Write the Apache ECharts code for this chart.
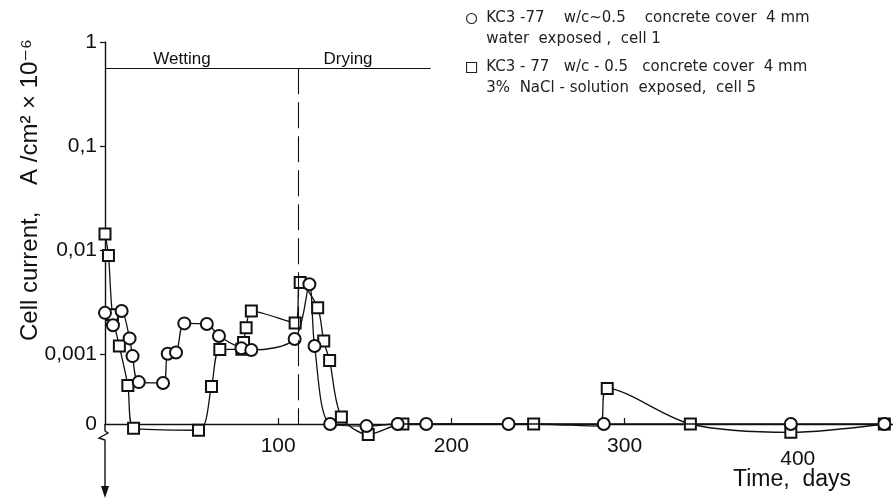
<!DOCTYPE html>
<html>
<head>
<meta charset="utf-8">
<script src="https://cdn.jsdelivr.net/npm/echarts@6/dist/echarts.min.js"></script>
<style>html,body{margin:0;padding:0;background:#fff}#c{width:893px;height:501px}</style>
</head>
<body>
<div id="c"></div>
<script>
// ---- data (cell current in A/cm^2 x 10^-6, time in days) ----
const daysWater = [0, 4.6, 9.6, 14.2, 15.9, 19.5, 33.5, 36.2, 41, 45.8, 58.8, 65.8, 78.8, 84.5, 109.5, 118, 121, 130, 151, 169, 185.5, 233, 288, 396, 450];
const currentWater = [0.0025, 0.0019, 0.0026, 0.00142, 0.00096, 0.00054, 0.00053, 0.00101, 0.00104, 0.00198, 0.00195, 0.0015, 0.00114, 0.0011, 0.0014, 0.0047, 0.0012, 0, -0.00002, 0, 0, 0, 0, 0, 0];
const daysNaCl = [0, 2, 4.3, 8.3, 13.2, 16.5, 54, 61.5, 66.3, 79, 80, 81.5, 84.5, 109.8, 112.7, 122.8, 126.3, 129.7, 136.5, 152, 172, 247.5, 285, 290, 338, 396, 450];
const currentNaCl = [0.0143, 0.0089, 0.0024, 0.0012, 0.0005, -0.00004, -0.00006, 0.00049, 0.00111, 0.00112, 0.0013, 0.0018, 0.0026, 0.002, 0.0049, 0.0028, 0.00134, 0.00087, 0.00025, -0.0001, 0, 0, -0.00002, 0.00047, 0, -0.00008, 0];
// curve vertex without a measurement symbol (where the drawn curve passes the circle at day 288)
const unmarkedNaCl = [285];
const yTickValues = [1, 0.1, 0.01, 0.001, 0];
const yTickLabels = ['1', '0,1', '0,01', '0,001', '0'];
const xTickValues = [100, 200, 300, 400];
const seriesNames = [
  'KC3 -77    w/c~0.5    concrete cover  4 mm\nwater  exposed ,  cell 1',
  'KC3 - 77   w/c - 0.5   concrete cover  4 mm\n3%  NaCl - solution  exposed,  cell 5'
];
const phaseSwitchDay = 111.6;
const phaseLineEndDay = 188;
const phaseLineLevel = 0.56;

// broken axis: decades on log scale, zero drawn 0.67 decade below 0.001
const ZERO_DECADE = -3.67;
const NEG_SCALE = 1000;
function toPos(v) { return v > 0 ? Math.log10(v) - ZERO_DECADE : v * NEG_SCALE; }

const FONT = '"Liberation Sans", "DejaVu Sans", sans-serif';
const LFONT = '"DejaVu Sans", sans-serif';
const chart = echarts.init(document.getElementById('c'), null, {renderer: 'canvas'});
const yPosTicks = yTickValues.map(toPos);

chart.setOption({
  animation: false,
  backgroundColor: '#fff',
  grid: {left: 105, right: 0, top: 42, bottom: 77, containLabel: false, outerBoundsMode: 'none'},
  legend: {
    orient: 'vertical', left: 461, top: -18, itemGap: -14,
    itemWidth: 10, itemHeight: 10,
    itemStyle: {color: '#fff', borderColor: '#222', borderWidth: 1.1},
    formatter: name => ' \n ' + name.replace('\n', '\n '),
    textStyle: {fontFamily: LFONT, fontSize: 15, color: '#222', lineHeight: 21},
    data: [{name: seriesNames[0], icon: 'circle'}, {name: seriesNames[1], icon: 'rect'}]
  },
  xAxis: {
    type: 'value', min: 0, max: 455,
    axisLine: {lineStyle: {color: '#111', width: 1.4}},
    axisTick: {customValues: [100, 200, 300], inside: true, length: 6, lineStyle: {color: '#111', width: 1.2}},
    axisLabel: {customValues: xTickValues, margin: 12, fontFamily: FONT, fontSize: 21, color: '#111',
      formatter: v => v === 400 ? '{low|' + v + '}' : String(v),
      rich: {low: {fontFamily: FONT, fontSize: 21, color: '#111', padding: [13, 0, 0, 0]}}},
    splitLine: {show: false}
  },
  yAxis: {
    type: 'value', min: 0, max: toPos(1),
    axisLine: {show: true, lineStyle: {color: '#111', width: 1.4}},
    axisTick: {customValues: yPosTicks.slice(0, 4), length: 5, lineStyle: {color: '#111', width: 1.2}},
    axisLabel: {customValues: yPosTicks, margin: 8, fontFamily: FONT, fontSize: 21, color: '#111',
      formatter: v => {
        for (let i = 0; i < yPosTicks.length; i++) if (Math.abs(yPosTicks[i] - v) < 1e-6) return yTickLabels[i];
        return '';
      }},
    splitLine: {show: false}
  },
  graphic: [
    {type: 'text', x: 30, y: 190, rotation: Math.PI / 2,
      style: {text: 'Cell current,    A /cm² × 10⁻⁶', fontFamily: FONT, fontSize: 24, fill: '#111', align: 'center', verticalAlign: 'middle'}},
    {type: 'text', x: 182, y: 59,
      style: {text: 'Wetting', fontFamily: FONT, fontSize: 17, fill: '#111', align: 'center', verticalAlign: 'middle'}},
    {type: 'text', x: 348, y: 59,
      style: {text: 'Drying', fontFamily: FONT, fontSize: 17, fill: '#111', align: 'center', verticalAlign: 'middle'}},
    {type: 'text', x: 792, y: 480,
      style: {text: 'Time,  days', fontFamily: FONT, fontSize: 23, fill: '#111', align: 'center', verticalAlign: 'middle'}},
    {type: 'polyline', shape: {points: [[105, 424], [105, 431], [108, 433], [99, 438], [105, 440], [105, 489]]},
      style: {stroke: '#111', lineWidth: 1.4, fill: null}, z: 51},
    {type: 'polygon', shape: {points: [[101, 486], [109, 486], [105, 498]]},
      style: {fill: '#111'}, z: 51}
  ],
  series: [
    {
      name: seriesNames[0], type: 'line', smooth: 0.3, z: 4, clip: false,
      symbol: 'emptyCircle', symbolSize: 12,
      lineStyle: {color: '#111', width: 1.3},
      itemStyle: {color: '#111', borderColor: '#111', borderWidth: 1.2},
      data: daysWater.map((d, i) => [d, toPos(currentWater[i])]),
      markLine: {
        silent: true, symbol: 'none', label: {show: false},
        data: [
          [{coord: [0, toPos(phaseLineLevel)], lineStyle: {type: 'solid', color: '#111', width: 1.1}},
           {coord: [phaseLineEndDay, toPos(phaseLineLevel)]}],
          [{coord: [phaseSwitchDay, toPos(phaseLineLevel)], lineStyle: {type: [26, 8], color: '#111', width: 1.1}},
           {coord: [phaseSwitchDay, 0]}]
        ]
      }
    },
    {
      name: seriesNames[1], type: 'line', smooth: 0.3, z: 3, clip: false,
      symbol: 'emptyRect', symbolSize: 11,
      lineStyle: {color: '#111', width: 1.3},
      itemStyle: {color: '#111', borderColor: '#111', borderWidth: 1.2},
      data: daysNaCl.map((d, i) => unmarkedNaCl.includes(d)
        ? {value: [d, toPos(currentNaCl[i])], symbol: 'none'}
        : [d, toPos(currentNaCl[i])])
    }
  ]
});
</script>
</body>
</html>
